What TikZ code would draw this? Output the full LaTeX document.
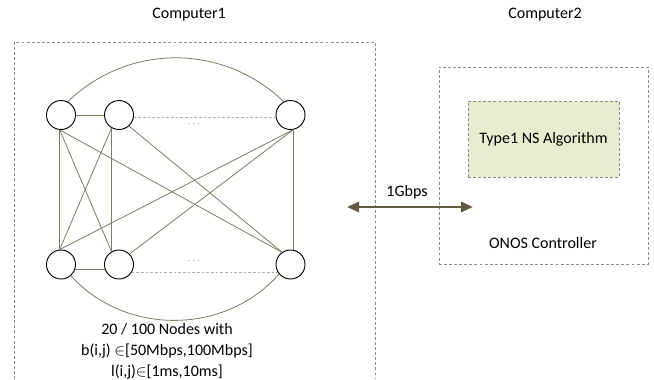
\documentclass[tikz,border=0pt]{standalone}
\usepackage{fontspec}
\setmainfont{Carlito}
\usetikzlibrary{arrows.meta}
\definecolor{linkgray}{RGB}{128,122,102}
\definecolor{arrowolive}{RGB}{96,92,66}
\definecolor{boxgray}{RGB}{140,140,140}
\definecolor{algogreen}{RGB}{232,237,208}
\begin{document}
\begin{tikzpicture}[x=0.75pt, y=-0.75pt,
  font=\fontsize{12}{14}\selectfont,
  host/.style={draw, shape=circle, minimum size=21.75pt, inner sep=0pt, line width=0.7pt},
  link/.style={draw=linkgray, line width=0.6pt},
  farlink/.style={draw=boxgray!70, line width=0.6pt, dash pattern=on 2pt off 1.5pt},
  hostbox/.style={draw=boxgray, line width=0.6pt, dash pattern=on 2.2pt off 1.6pt}]
\useasboundingbox (0,0) rectangle (654,379);
% Computer1 with the emulated network
\node (pc1) at (189,15) {Computer1};
\draw[hostbox] (14,379) -- (14,42) -- (375,42) -- (375,379);
\node (t1) [host] at (61,115) {};
\node (t2) [host] at (119,115) {};
\node (t3) [host] at (290.5,115) {};
\node (b1) [host] at (61,264.5) {};
\node (b2) [host] at (119,264.5) {};
\node (b3) [host] at (290.5,264.5) {};
\node (tdots) at (194,124) {\fontsize{7}{8}\selectfont\color{linkgray}$\cdots$};
\node (bdots) at (194,261) {\fontsize{7}{8}\selectfont\color{linkgray}$\cdots$};
\draw[link] (t1) -- (t2);
\draw[farlink] (t2.-8) -- (t3.-172);
\draw[link] (b1.-20) -- (b2.-160);
\draw[farlink] (b2.-32) -- (b3.-148);
\draw[link] (t1.63) to[bend left=44] (t3.117);
\draw[link] (b1.-49) to[bend right=48] (b3.-140);
\draw[link] (t1.265) -- (b1.95);
\draw[link] (t1.265) -- (b2.120);
\draw[link] (t1.265) -- (b3.125);
\draw[link] (t2.240) -- (b1.95);
\draw[link] (t2.240) -- (b2.120);
\draw[link] (t2.-48) -- (b3.125);
\draw[link] (t3.-80) -- (b1.95);
\draw[link] (t3.-80) -- (b2.45);
\draw[link] (t3.-80) -- (b3.80);
\node (netinfo) [align=center, font=\fontsize{12}{15.75}\selectfont] at (167,351)
  {20 / 100 Nodes with\\ b(i,j) $\in$[50Mbps,100Mbps]\\ l(i,j)$\in$[1ms,10ms]};
% Computer2 with the controller
\node (pc2) at (545,15) {Computer2};
\node (onos) [hostbox, minimum width=156.75pt, minimum height=147.75pt] at (543.5,165.5) {};
\node (algo) [hostbox, fill=algogreen, minimum width=113.25pt, minimum height=57pt] at (543.5,139) {Type1 NS Algorithm};
\node (onoslabel) at (543,243) {ONOS Controller};
% link between the computers
\coordinate (linkL) at (347,207);
\coordinate (linkR) at (473,207);
\draw[{Triangle[length=9pt,width=7.5pt]}-{Triangle[length=9pt,width=7.5pt]}, arrowolive, line width=2.2pt] (linkL) -- (linkR);
\node (speed) at (407,192) {1Gbps};
\end{tikzpicture}
\end{document}
